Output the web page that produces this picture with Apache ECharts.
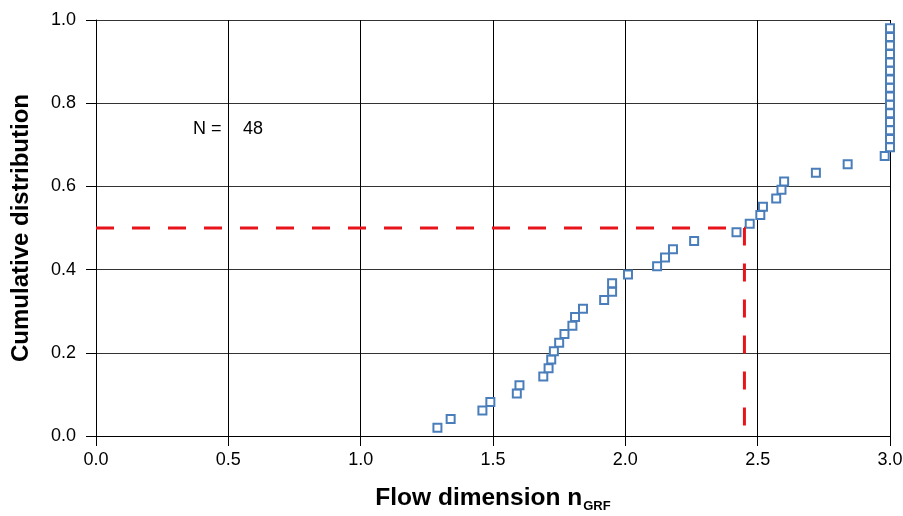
<!DOCTYPE html>
<html>
<head>
<meta charset="utf-8">
<script src="https://cdn.jsdelivr.net/npm/echarts@6/dist/echarts.min.js"></script>
<style>
  html, body { margin: 0; padding: 0; background: #fff; }
</style>
</head>
<body>
<div id="chart" style="width:903px;height:516px;"></div>
<script>
// flow dimension values, sorted
var flowDim = [1.29, 1.34, 1.46, 1.49, 1.59, 1.60, 1.69, 1.71, 1.72, 1.73, 1.75, 1.77,
  1.80, 1.81, 1.84, 1.92, 1.95, 1.95, 2.01, 2.12, 2.15, 2.18, 2.26, 2.42, 2.47, 2.51,
  2.52, 2.57, 2.59, 2.60, 2.72, 2.84, 2.98, 3.0, 3.0, 3.0, 3.0, 3.0, 3.0, 3.0, 3.0,
  3.0, 3.0, 3.0, 3.0, 3.0, 3.0, 3.0];
// cumulative distribution
var cumDist = [0.020, 0.041, 0.061, 0.082, 0.102, 0.122, 0.143, 0.163, 0.184, 0.204,
  0.224, 0.245, 0.265, 0.286, 0.306, 0.327, 0.347, 0.367, 0.388, 0.408, 0.429, 0.449,
  0.469, 0.490, 0.510, 0.531, 0.551, 0.571, 0.592, 0.612, 0.633, 0.653, 0.673, 0.694,
  0.714, 0.735, 0.755, 0.776, 0.796, 0.816, 0.837, 0.857, 0.878, 0.898, 0.918, 0.939,
  0.959, 0.980];
// median guide line
var medianX = [0, 2.45, 2.45];
var medianY = [0.5, 0.5, 0];
var xTicks = ['0.0', '0.5', '1.0', '1.5', '2.0', '2.5', '3.0'];
var yTicks = ['0.0', '0.2', '0.4', '0.6', '0.8', '1.0'];

var font = 'Liberation Sans, Arial, sans-serif';
var chart = echarts.init(document.getElementById('chart'));

var pts = [];
for (var i = 0; i < flowDim.length; i++) pts.push([flowDim[i], cumDist[i]]);
var med = [];
for (var j = 0; j < medianX.length; j++) med.push([medianX[j], medianY[j]]);

var option = {
  animation: false,
  grid: { left: 96, right: 13, top: 20, bottom: 80, outerBoundsMode: 'none', containLabel: false },
  xAxis: {
    type: 'value', min: 0, max: 3, interval: 0.5,
    name: '{a|Flow dimension n}{b|GRF}',
    nameLocation: 'middle', nameGap: 48,
    nameTextStyle: {
      rich: {
        a: { fontFamily: font, fontSize: 24.5, fontWeight: 'bold', color: '#000' },
        b: { fontFamily: font, fontSize: 13, fontWeight: 'bold', color: '#000', padding: [16, 0, 0, 1] }
      }
    },
    axisLine: { show: true, lineStyle: { color: '#000', width: 1 } },
    axisTick: { show: true, length: 10, lineStyle: { color: '#000' } },
    axisLabel: {
      margin: 15, color: '#000', fontFamily: font, fontSize: 18,
      formatter: function (v) { return xTicks[Math.round(v / 0.5)]; }
    },
    splitLine: { show: true, lineStyle: { color: '#000', width: 1 } }
  },
  yAxis: {
    type: 'value', min: 0, max: 1, interval: 0.2,
    name: 'Cumulative distribution',
    nameLocation: 'middle', nameGap: 63,
    nameTextStyle: { fontFamily: font, fontSize: 24, fontWeight: 'bold', color: '#000' },
    axisLine: { show: true, lineStyle: { color: '#000', width: 1 } },
    axisTick: { show: true, length: 10, lineStyle: { color: '#000' } },
    axisLabel: {
      margin: 20, color: '#000', fontFamily: font, fontSize: 18,
      formatter: function (v) { return yTicks[Math.round(v / 0.2)]; }
    },
    splitLine: { show: true, lineStyle: { color: '#333', width: 1 } }
  },
  graphic: [
    { type: 'text', left: 193, top: 120, style: { text: 'N =', fontFamily: font, fontSize: 18, fill: '#000' } },
    { type: 'text', left: 243, top: 120, style: { text: '48', fontFamily: font, fontSize: 18, fill: '#000' } }
  ],
  series: [
    {
      type: 'line', data: med, symbol: 'none', silent: true,
      lineStyle: { color: '#e8141b', width: 3, type: [18, 18] }
    },
    {
      type: 'scatter', data: pts, symbol: 'rect', symbolSize: 8,
      itemStyle: { color: '#fff', borderColor: '#4a7ebb', borderWidth: 2, opacity: 1 }
    }
  ]
};
chart.setOption(option);
</script>
</body>
</html>
